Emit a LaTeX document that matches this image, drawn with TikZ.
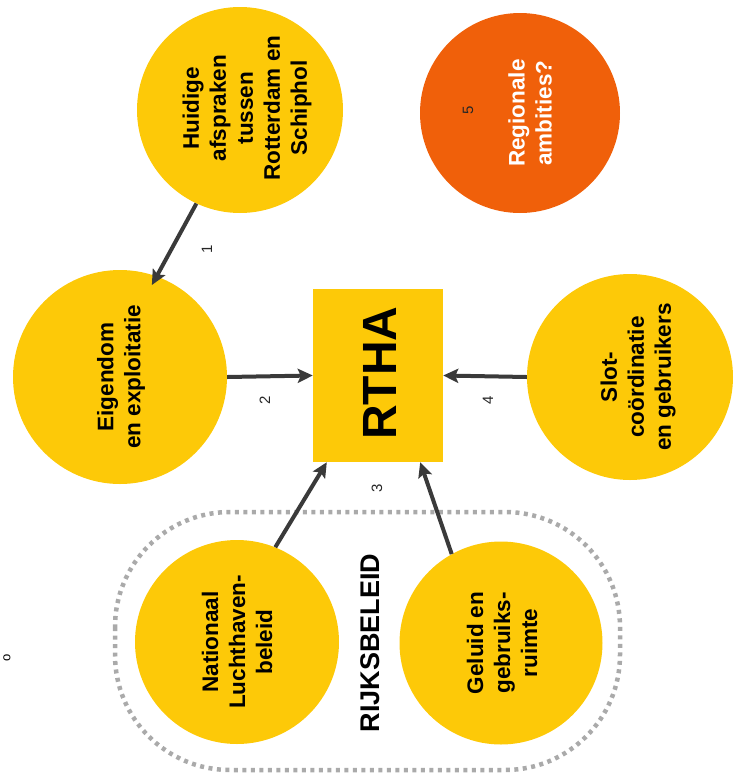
\documentclass[tikz,border=0pt]{standalone}
\usepackage{fontspec}
\setmainfont{Liberation Sans}
\usetikzlibrary{arrows.meta,calc}
\definecolor{ylw}{RGB}{253,201,8}
\definecolor{orng}{RGB}{240,96,10}
\definecolor{arrc}{RGB}{58,58,58}
\definecolor{dotc}{RGB}{170,170,170}
\begin{document}
\begin{tikzpicture}[x=1pt,y=-1pt,
  circ/.style={circle,fill=ylw,minimum size=#1,inner sep=0pt},
  lbl/.style={rotate=90,align=center,font=\fontsize{22.5}{27}\selectfont\bfseries,text=black},
  numlbl/.style={rotate=90,font=\fontsize{15}{18}\selectfont,text=black!85},
  arr/.style={draw=arrc,line width=4pt,-{Stealth[length=15pt,width=14pt,inset=3pt]}},
  dotted border/.style={draw=dotc,line width=4.5pt,dash pattern=on 4pt off 4.5pt,rounded corners=115pt}
]
\useasboundingbox (0,0) rectangle (739,780);

% dotted group
\draw[dotted border] (115,512) rectangle (620,770);

% circles
\node[circ=206pt] (H) at (240,110) {};
\node[circ=200pt,fill=orng] (O) at (520,113) {};
\node[circ=214pt] (E) at (120,377) {};
\node[circ=206pt] (S) at (630,377) {};
\node[circ=204pt] (N) at (237,642) {};
\node[circ=203pt] (G) at (501,643) {};
\node[fill=ylw,minimum width=130pt,minimum height=173pt,inner sep=0pt] (R) at (378,375.5) {};

% texts
\node[lbl] (Ht) at (247,108) {Huidige\\afspraken\\tussen\\Rotterdam en\\Schiphol};
\node[lbl,text=white] (Ot) at (530,113) {Regionale\\ambities?};
\node[numlbl] (On) at (468,110) {5};
\node[lbl] (Et) at (121,377) {Eigendom\\en exploitatie};
\node[lbl] (St) at (638,377) {Slot-\\coördinatie\\en gebruikers};
\node[lbl] (Nt) at (237,642) {Nationaal\\Luchthaven-\\beleid};
\node[lbl] (Gt) at (502,643) {Geluid en\\gebruiks-\\ruimte};
\node[rotate=90,font=\fontsize{48}{56}\selectfont\bfseries] (Rt) at (380,373) {RTHA};
\node[rotate=90,font=\fontsize{27}{32}\selectfont\bfseries] (Rb) at (370,643) {RIJKSBELEID};
\node[rotate=90,font=\fontsize{13}{15}\selectfont,inner sep=0pt,anchor=center] (edge) at (7,658) {o};

% arrows
\draw[arr,shorten >=-10pt] (H.245.6) -- (E.70);
\draw[arr] (E.east) -- (R.west);
\draw[arr] (S.west) -- (R.east);
\draw[arr] (N.68) -- ([xshift=14pt]R.south west);
\draw[arr] (G.119) -- ([xshift=-23pt]R.south east);

% numbers
\node[numlbl] (n1) at (207,249) {1};
\node[numlbl] (n2) at (265,400) {2};
\node[numlbl] (n3) at (377,488) {3};
\node[numlbl] (n4) at (488,400) {4};
\end{tikzpicture}
\end{document}
